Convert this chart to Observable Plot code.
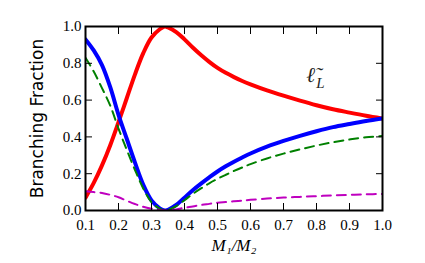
<!DOCTYPE html>
<html><head><meta charset="utf-8">
<script src="https://cdn.jsdelivr.net/npm/d3@7"></script>
<script src="https://cdn.jsdelivr.net/npm/@observablehq/plot@0.6"></script>
<style>body{margin:0;background:#fff}</style></head>
<body><div id="chart"></div>
<script>
const massRatio = [0.1,0.125,0.15,0.175,0.2,0.225,0.25,0.275,0.3,0.325,0.34,0.35,0.375,0.4,0.425,0.45,0.475,0.5,0.525,0.55,0.575,0.6,0.65,0.7,0.75,0.8,0.85,0.9,0.95,1.0];
const redSeries = [0.07,0.15,0.245,0.355,0.48,0.61,0.74,0.855,0.94,0.985,1.0,0.995,0.97,0.93,0.886,0.845,0.808,0.775,0.748,0.725,0.704,0.686,0.653,0.624,0.597,0.572,0.55,0.532,0.515,0.5];
const blueSeries = [0.93,0.87,0.79,0.67,0.52,0.39,0.26,0.14,0.055,0.012,0.0,0.004,0.03,0.07,0.11,0.146,0.18,0.212,0.24,0.265,0.288,0.31,0.347,0.378,0.406,0.431,0.453,0.47,0.486,0.5];
const greenSeries = [0.83,0.755,0.665,0.57,0.445,0.33,0.22,0.12,0.045,0.01,0.0,0.003,0.024,0.056,0.09,0.12,0.148,0.172,0.194,0.215,0.234,0.252,0.283,0.309,0.332,0.353,0.371,0.386,0.398,0.405];
const magentaSeries = [0.105,0.1,0.095,0.085,0.072,0.053,0.035,0.02,0.01,0.003,0.0,0.001,0.006,0.015,0.022,0.03,0.036,0.042,0.046,0.05,0.054,0.058,0.065,0.07,0.074,0.078,0.082,0.085,0.088,0.09];
const xTicks = [0.1,0.2,0.3,0.4,0.5,0.6,0.7,0.8,0.9,1.0];
const yTicks = [0.0,0.2,0.4,0.6,0.8,1.0];
const xTitle = "M₁/M₂";
const yTitle = "Branching Fraction";
const annotMain = [{x:0.782, y:0.697, t:"ℓ̃"}];
const annotSub = [{x:0.812, y:0.668, t:"L"}];

const rows = massRatio.map((x,i)=>({x, red:redSeries[i], blue:blueSeries[i], green:greenSeries[i], magenta:magentaSeries[i]}));
const fmt = d => d.toFixed(1);
const serif = "'Liberation Serif', serif";

const chart = Plot.plot({
  width:425, height:263,
  marginTop:26, marginRight:43, marginBottom:53, marginLeft:85,
  style:{background:"white", fontFamily:serif, fontSize:"15px", color:"black"},
  x:{domain:[0.1,1.0]},
  y:{domain:[0,1]},
  marks:[
    Plot.line(rows,{x:"x", y:"red", stroke:"#ff0000", strokeWidth:4, curve:"catmull-rom", clip:true}),
    Plot.line(rows,{x:"x", y:"blue", stroke:"#0000ff", strokeWidth:4, curve:"catmull-rom", clip:true}),
    Plot.line(rows,{x:"x", y:"green", stroke:"#008000", strokeWidth:2, strokeDasharray:"9,6", curve:"catmull-rom", clip:true}),
    Plot.line(rows,{x:"x", y:"magenta", stroke:"#bf00bf", strokeWidth:2, strokeDasharray:"9,6", curve:"catmull-rom", clip:true}),
    Plot.axisX(xTicks,{anchor:"bottom", tickSize:0, tickPadding:9, tickFormat:fmt, label:null, fill:"black"}),
    Plot.axisX(xTicks,{anchor:"bottom", tickSize:7, dy:-7, text:null, label:null, stroke:"black"}),
    Plot.axisX(xTicks,{anchor:"top", tickSize:7, dy:7, text:null, label:null, stroke:"black"}),
    Plot.axisY(yTicks,{anchor:"left", tickSize:0, tickPadding:4, tickFormat:fmt, label:null, fill:"black"}),
    Plot.axisY(yTicks,{anchor:"left", tickSize:7, dx:7, text:null, label:null, stroke:"black"}),
    Plot.axisY(yTicks,{anchor:"right", tickSize:7, dx:-7, text:null, label:null, stroke:"black"}),
    Plot.frame({stroke:"black", strokeWidth:2}),
    Plot.text([xTitle],{frameAnchor:"bottom", dy:40, fontStyle:"italic", fontSize:17, fill:"black", fontFamily:serif}),
    Plot.text([yTitle],{frameAnchor:"left", textAnchor:"middle", dx:-48, rotate:-90, fontSize:17, fill:"black", fontFamily:"'DejaVu Sans', sans-serif"}),
    Plot.text(annotMain,{x:"x", y:"y", text:"t", lineAnchor:"bottom", fontStyle:"italic", fontSize:21, fill:"#222", fontFamily:serif}),
    Plot.text(annotSub,{x:"x", y:"y", text:"t", lineAnchor:"bottom", fontStyle:"italic", fontSize:15, fill:"#222", fontFamily:serif})
  ]
});
document.getElementById("chart").append(chart);
</script>
</body></html>
